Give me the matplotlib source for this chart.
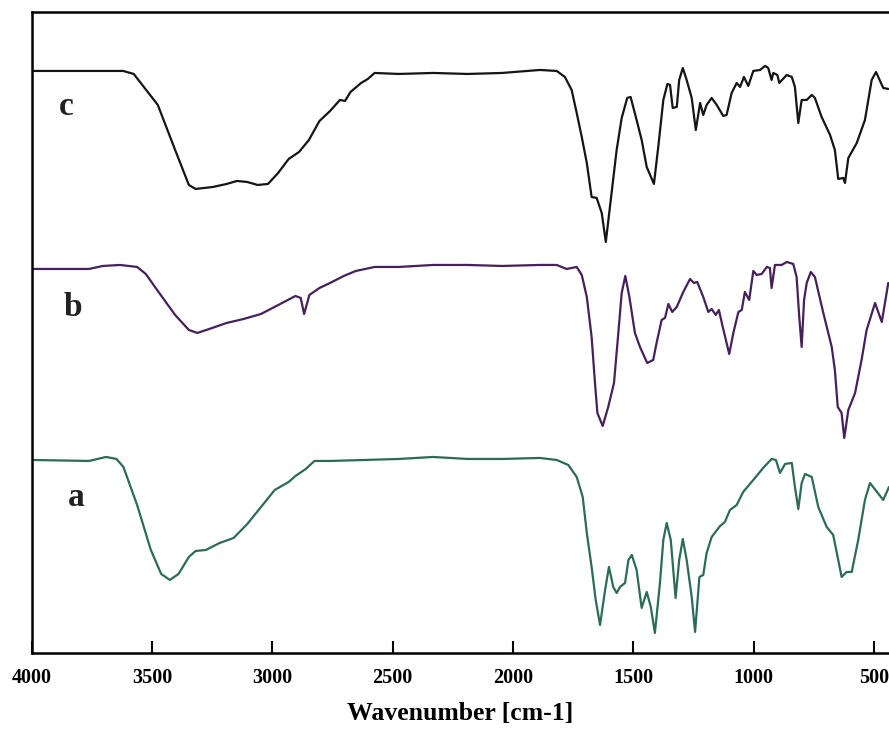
import matplotlib
matplotlib.use("Agg")
import matplotlib.pyplot as plt

# FTIR spectra, transmittance in arbitrary units (stacked)
wn_c = [4000, 3620, 3576, 3476, 3404, 3347, 3319, 3247, 3190, 3147, 3105, 3061, 3018,
        2976, 2932, 2889, 2848, 2804, 2760, 2719, 2698, 2675, 2631, 2603, 2575, 2474,
        2332, 2188, 2045, 1888, 1818, 1784, 1756, 1735, 1714, 1693, 1673, 1652, 1631,
        1614, 1590, 1569, 1548, 1525, 1511, 1486, 1465, 1444, 1414, 1396, 1375, 1358,
        1347, 1336, 1319, 1309, 1294, 1278, 1257, 1240, 1222, 1209, 1195, 1174, 1153,
        1126, 1112, 1091, 1070, 1056, 1040, 1022, 1001, 973, 952, 939, 925, 918, 901,
        893, 862, 841, 828, 814, 800, 779, 758, 745, 717, 682, 662, 648, 627, 620, 606,
        571, 537, 509, 491, 461, 440]
t_c = [582, 582, 579, 548, 503, 468, 464, 466, 469, 472, 471, 468, 469,
       480, 494, 501, 513, 532, 542, 553, 552, 561, 570, 574, 580, 579,
       580, 579, 580, 583, 582, 576, 563, 540, 516, 490, 456, 455, 440,
       411, 460, 503, 535, 555, 556, 533, 513, 486, 469, 506, 553, 569,
       568, 545, 546, 573, 585, 573, 555, 523, 550, 538, 548, 555, 548,
       537, 538, 560, 570, 566, 576, 567, 582, 583, 587, 585, 573, 580, 578,
       570, 578, 576, 566, 530, 553, 553, 558, 555, 536, 518, 503, 474, 475, 470, 495,
       510, 533, 573, 581, 565, 564]

wn_b = [4000, 3762, 3705, 3633, 3562, 3526, 3476, 3404, 3347, 3312, 3262, 3190, 3119,
        3047, 2975, 2904, 2882, 2868, 2846, 2804, 2760, 2703, 2653, 2575, 2474, 2332,
        2188, 2045, 1888, 1818, 1777, 1735, 1714, 1693, 1673, 1659, 1649, 1627, 1604,
        1580, 1562, 1548, 1533, 1516, 1493, 1472, 1442, 1417, 1403, 1382, 1368, 1354,
        1338, 1319, 1292, 1264, 1248, 1234, 1209, 1188, 1174, 1157, 1144, 1128, 1101,
        1084, 1063, 1049, 1036, 1018, 1001, 987, 966, 945, 932, 925, 911, 883, 862,
        835, 821, 810, 800, 790, 779, 762, 745, 710, 675, 662, 650, 634, 623, 606, 578,
        551, 530, 495, 467, 440]
t_b = [384, 384, 387, 388, 386, 379, 362, 338, 323, 320, 324, 330, 334,
       339, 348, 357, 355, 339, 358, 365, 370, 377, 382, 386, 386, 388,
       388, 387, 388, 388, 384, 386, 378, 356, 316, 270, 240, 227, 246,
       270, 320, 360, 377, 356, 320, 306, 290, 293, 310, 333, 335, 349,
       341, 346, 361, 374, 370, 371, 356, 341, 344, 338, 343, 326, 299,
       320, 341, 343, 361, 353, 382, 378, 379, 386, 385, 365, 388, 388, 391,
       389, 376, 336, 306, 353, 370, 381, 376, 340, 306, 283, 246, 240, 215, 243, 260,
       293, 323, 350, 331, 370]

wn_a = [4000, 3762, 3691, 3648, 3619, 3562, 3505, 3462, 3426, 3390, 3347, 3319, 3276,
        3219, 3161, 3104, 3047, 2990, 2932, 2904, 2861, 2825, 2760, 2617, 2474, 2332,
        2188, 2045, 1888, 1818, 1770, 1735, 1710, 1693, 1673, 1656, 1638, 1617, 1601,
        1583, 1569, 1555, 1534, 1520, 1506, 1486, 1465, 1444, 1427, 1410, 1389, 1375,
        1361, 1344, 1324, 1309, 1294, 1278, 1257, 1243, 1225, 1209, 1195, 1174, 1139,
        1119, 1098, 1070, 1043, 1001, 960, 925, 907, 890, 869, 841, 828, 814, 800, 786,
        758, 731, 696, 669, 648, 634, 613, 592, 565, 537, 516, 461, 437]
t_a = [193, 192, 196, 194, 186, 148, 103, 79, 73, 79, 96, 102, 103,
       110, 115, 129, 146, 163, 171, 177, 184, 192, 192, 193, 194, 196,
       194, 194, 195, 193, 188, 176, 156, 120, 86, 53, 28, 63, 86,
       66, 60, 66, 70, 93, 98, 83, 45, 61, 46, 20, 70, 113,
       130, 113, 55, 93, 114, 93, 56, 21, 76, 78, 100, 116, 127,
       131, 143, 148, 161, 173, 185, 194, 193, 180, 189, 190, 166, 144, 170, 179,
       176, 146, 126, 118, 93, 76, 81, 81, 113, 153, 170, 153, 166]

x_ticks = [4000, 3500, 3000, 2500, 2000, 1500, 1000, 500]
curve_labels = ["c", "b", "a"]

serif = ["Liberation Serif", "DejaVu Serif"]

fig = plt.figure(figsize=(8.89, 7.29), dpi=100)
ax = fig.add_axes([0.0357, 0.1043, 0.9643, 0.8793])

line_kw = dict(lw=1.6, solid_joinstyle="round", solid_capstyle="round")
ax.plot(wn_c, t_c, color="#151515", **line_kw)
ax.plot(wn_b, t_b, color="#45205a", **line_kw)
ax.plot(wn_a, t_a, color="#2c6b58", **line_kw)

ax.set_xlim(4000, 437)
ax.set_ylim(0, 641)

ax.set_xticks(x_ticks)
ax.set_xticklabels([str(t) for t in x_ticks], family=serif, fontweight="bold", fontsize=14.5)
ax.tick_params(axis="x", direction="in", length=8.5, width=1.5, pad=11)
ax.set_yticks([])
for side in ["left", "bottom", "top"]:
    ax.spines[side].set_linewidth(1.8)
ax.spines["right"].set_visible(False)

ax.set_xlabel("Wavenumber [cm-1]", family=serif, fontweight="bold", fontsize=18.5, labelpad=10)

# curve labels
label_pos = [(3855, 546), (3830, 345), (3815, 155)]
for lab, (xx, yy) in zip(curve_labels, label_pos):
    ax.text(xx, yy, lab, family=serif, fontweight="bold", fontsize=24,
            ha="center", va="center", color="#222222")

fig.savefig("out.png", dpi=100)
